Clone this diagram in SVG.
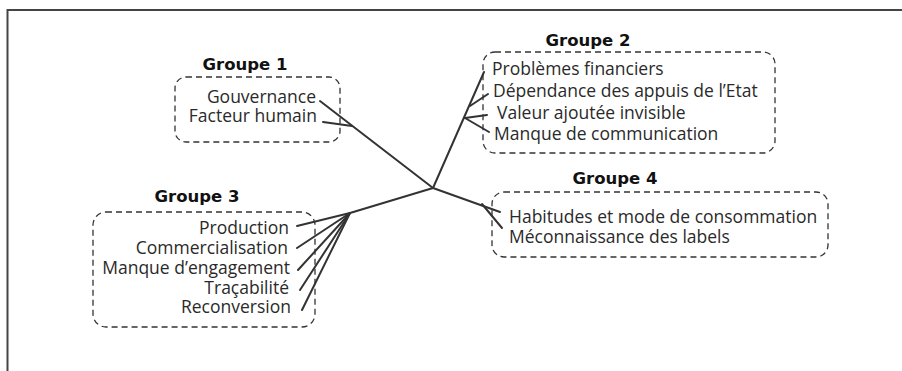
<svg xmlns="http://www.w3.org/2000/svg" width="902" height="371" viewBox="0 0 902 371">
<style>
.frame{fill:none;stroke:#444;stroke-width:2}
.box{fill:none;stroke:#333;stroke-width:1.3;stroke-dasharray:6 4}
.title{font-family:"DejaVu Sans",sans-serif;font-weight:bold;font-size:16.5px;fill:#111;text-anchor:middle}
.item{font-family:"Open Sans",sans-serif;font-size:17.5px;fill:#2a2a2a}
.end{text-anchor:end}
.conn line{stroke:#333;stroke-width:2;stroke-linecap:round}
</style>
<rect width="902" height="371" fill="#fff"/>
<path class="frame" d="M7.5,371 V10 H902"/>
<g id="connectors" class="conn">
<line x1="433" y1="188" x2="320" y2="101"/>
<line x1="352" y1="126" x2="323" y2="122"/>
<line x1="433" y1="188" x2="484" y2="72"/>
<line x1="470" y1="106" x2="488" y2="94"/>
<line x1="465" y1="118" x2="487" y2="115"/>
<line x1="465" y1="118" x2="489" y2="132"/>
<line x1="433" y1="188" x2="350" y2="213"/>
<line x1="350" y1="213" x2="297" y2="226"/>
<line x1="350" y1="213" x2="297" y2="248"/>
<line x1="350" y1="213" x2="298" y2="270"/>
<line x1="350" y1="213" x2="300" y2="290"/>
<line x1="350" y1="213" x2="302" y2="310"/>
<line x1="433" y1="188" x2="500" y2="212"/>
<line x1="482" y1="204" x2="502" y2="228"/>
</g>
<g id="groupe1">
<rect class="box" x="175" y="77" width="165" height="65" rx="11"/>
<text class="title" x="245" y="70">Groupe 1</text>
<text class="item end" x="316" y="103">Gouvernance</text>
<text class="item end" x="317" y="122">Facteur humain</text>
</g>
<g id="groupe2">
<rect class="box" x="483" y="52" width="292" height="101" rx="12"/>
<text class="title" x="588" y="46">Groupe 2</text>
<text class="item" x="492" y="75">Problèmes financiers</text>
<text class="item" x="493" y="97">Dépendance des appuis de l’Etat</text>
<text class="item" x="497" y="119">Valeur ajoutée invisible</text>
<text class="item" x="494" y="140">Manque de communication</text>
</g>
<g id="groupe3">
<rect class="box" x="93" y="212" width="222" height="115" rx="13"/>
<text class="title" x="197" y="202">Groupe 3</text>
<text class="item end" x="289" y="234">Production</text>
<text class="item end" x="288" y="254">Commercialisation</text>
<text class="item end" x="290" y="274">Manque d’engagement</text>
<text class="item end" x="289" y="294">Traçabilité</text>
<text class="item end" x="291" y="313">Reconversion</text>
</g>
<g id="groupe4">
<rect class="box" x="492" y="192" width="336" height="65" rx="12"/>
<text class="title" x="615" y="184">Groupe 4</text>
<text class="item" x="509" y="223">Habitudes et mode de consommation</text>
<text class="item" x="509" y="243">Méconnaissance des labels</text>
</g>
</svg>
